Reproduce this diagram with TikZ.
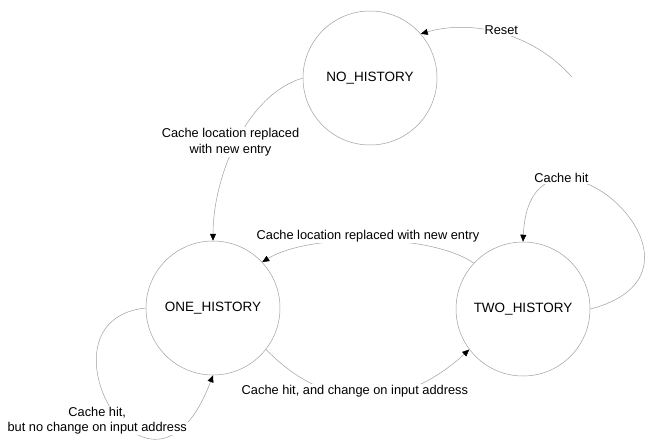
\documentclass[tikz,border=0pt]{standalone}
\usepackage{fontspec}
\setmainfont{Liberation Sans}
\usetikzlibrary{arrows.meta}

\begin{document}
\begin{tikzpicture}[x=1pt, y=-1pt, state/.style={circle, draw=gray!75, line width=0.5pt, minimum size=134pt, inner sep=0pt, font=\fontsize{13.5}{16}\selectfont}, arrow/.style={draw=gray!75, line width=0.5pt, -{Triangle[length=7pt, width=6pt, black]}}, lbl/.style={fill=white, inner sep=1pt, align=center, font=\fontsize{12.8}{15.5}\selectfont}]
\useasboundingbox (0,0) rectangle (647,442);
\node[state] (no) at (370,78) {NO\_HISTORY};
\node[state] (one) at (213,308) {ONE\_HISTORY};
\node[state] (two) at (523,309) {TWO\_HISTORY};
\coordinate (rst) at (572,77);
\draw[arrow] (rst) .. controls +(-42,-47) and +(47,-14) .. node[lbl, pos=0.5, xshift=3pt, yshift=2pt] (lreset) {Reset} (no.41);
\draw[arrow] (no.180) .. controls +(-57,17) and +(0,-63) .. node[lbl, pos=0.5, xshift=-6pt] (lrepl) {Cache location replaced\\with new entry} (one.north);
\draw[arrow] (two.137) .. controls +(-45,-31) and +(45,-28) .. node[lbl, pos=0.5, yshift=4pt] (lrepl2) {Cache location replaced with new entry} (one.43);
\draw[arrow] (two.east) .. controls +(151,-39) and +(7,-153) .. node[lbl, pos=0.72, xshift=-3pt, yshift=3pt] (lhit) {Cache hit} (two.north);
\draw[arrow] (one.-38) .. controls +(63,65) and +(-65,60) .. node[lbl, pos=0.5, xshift=-12pt, yshift=5pt] (lchange) {Cache hit, and change on input address} (two.-143);
\draw[arrow] (one.west) .. controls +(-118,12) and +(-63,166) .. node[lbl, pos=0.55, xshift=-22pt, yshift=-2pt] (lsame) {Cache hit,\\but no change on input address} (one.south);
\end{tikzpicture}
\end{document}
